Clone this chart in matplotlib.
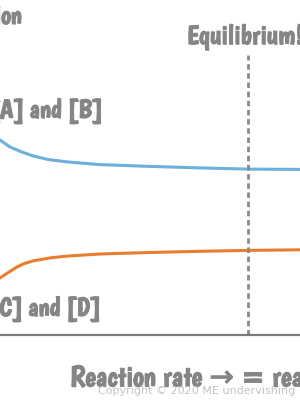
import matplotlib
matplotlib.use("Agg")
import matplotlib.pyplot as plt
import matplotlib.patheffects as pe

# Data (time in arbitrary units, concentration in arbitrary units)
t_ab = [0, 0.17, 0.33, 0.7, 1.1, 1.6, 2.23, 3.33, 5.0, 6.67, 8.27, 10.0]
c_ab = [0.650, 0.638, 0.627, 0.611, 0.597, 0.585, 0.577, 0.568, 0.562, 0.557, 0.553, 0.552]
t_cd = [0, 0.3, 0.57, 0.8, 1.1, 1.67, 2.23, 3.33, 5.0, 6.67, 8.27, 10.0]
c_cd = [0.190, 0.210, 0.227, 0.238, 0.247, 0.257, 0.263, 0.270, 0.275, 0.279, 0.282, 0.284]
t_eq = 8.27

labels = {
    "ylabel": "Concentration",
    "ab": "[A] and [B]",
    "cd": "[C] and [D]",
    "eq": "Equilibrium!",
    "xlabel": "Reaction rate \u2192 = reaction rate \u2190",
    "copy": "Copyright \u00a9 2020 ME undervishing",
}

HAND = ["Boogaloo", "DejaVu Sans"]
GRAY = "#858585"
fig = plt.figure(figsize=(3, 4), dpi=100)
ax = fig.add_axes([0, 65 / 400, 1, 300 / 400])
ax.set_xlim(0, 10)
ax.set_ylim(0, 1)
for s in ("left", "right", "top"):
    ax.spines[s].set_visible(False)
ax.spines["bottom"].set_color("#7a7a7a")
ax.spines["bottom"].set_linewidth(1.6)
ax.set_xticks([])
ax.set_yticks([])

ax.plot(t_ab, c_ab, color="#6cb0dc", lw=2.2, solid_capstyle="round", solid_joinstyle="round")
ax.plot(t_cd, c_cd, color="#e97d2e", lw=2.2, solid_capstyle="round", solid_joinstyle="round")
ax.axvline(t_eq, ymin=0, ymax=(335 - 55) / 300, color="#8a8a8a", lw=2,
           linestyle=(0, (2.0, 1.3)))

thick = [pe.withStroke(linewidth=0.7, foreground=GRAY)]
fk = dict(family=HAND, color=GRAY, path_effects=thick)
ax.text(0.73, 1.06, labels["ylabel"], ha="right", va="center", fontsize=19, clip_on=False, **fk)
ax.text(3.4, 0.747, labels["ab"], ha="right", va="center", fontsize=19, **fk)
ax.text(3.33, 0.087, labels["cd"], ha="right", va="center", fontsize=19, **fk)
ax.text(6.23, 0.993, labels["eq"], ha="left", va="center", fontsize=19.5, clip_on=False, **fk)

fig.text(70 / 300, 1 - 379 / 400, labels["xlabel"], ha="left", va="center", fontsize=21, **fk)
fig.text(98 / 300, 1 - 391 / 400, labels["copy"], ha="left", va="center", fontsize=8,
         color="#c4c4c4", family="DejaVu Sans")

fig.savefig("out.png", dpi=100)
